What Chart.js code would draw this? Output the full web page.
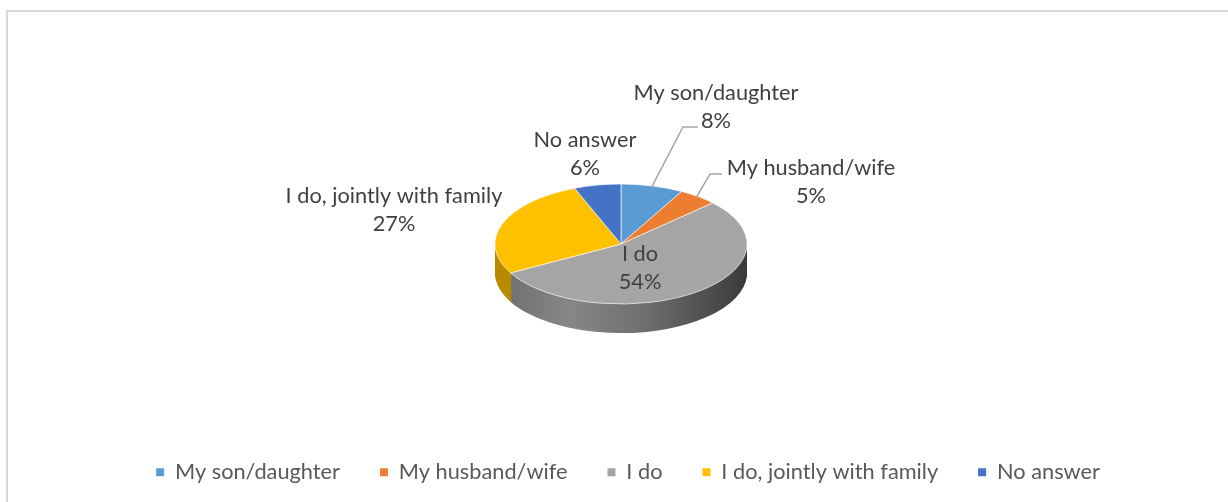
<!DOCTYPE html>
<html>
<head>
<meta charset="utf-8">
<script src="https://cdn.jsdelivr.net/npm/chart.js"></script>
<style>
  body { margin: 0; overflow: hidden; background: #fff; }
  #frame { position: absolute; left: 6px; top: 10px; width: 1240px; height: 520px; border: 2px solid #d9d9d9; }
  #myChart { position: absolute; left: 0; top: 0; }
</style>
</head>
<body>
<div id="frame"></div>
<canvas id="myChart" width="1228" height="502"></canvas>
<script>
const categories = ['My son/daughter', 'My husband/wife', 'I do', 'I do, jointly with family', 'No answer'];
const shares = [8, 5, 54, 27, 6];
const sliceColors = ['#5B9BD5', '#ED7D31', '#A5A5A5', '#FFC000', '#4472C4'];
const sideColors = ['#3f6f9c', '#a85620', 'gray', '#b88a00', '#2f5597'];

// where the flattened pie sits on the page
const pie = { cx: 621, cy: 244, rx: 126, ry: 60, depth: 29 };
const fontSize = 21.75;
const fontFamily = 'Lato, "Open Sans", sans-serif';
// data label text anchors (first line), second line sits 28px lower
const labelPos = [[716, 93], [811, 168], [640, 254], [394, 196], [585, 140]];
// leader line elbows for the two small slices
const leaders = [[[683, 127], [698, 127]], [[710, 174], [722, 174]], null, null, null];

function applyPie(ctx, arc, dy) {
  const R = arc.outerRadius;
  ctx.translate(pie.cx, pie.cy + dy);
  ctx.scale(pie.rx / R, pie.ry / R);
  ctx.translate(-arc.x, -arc.y);
}

function rimPoint(ang, f) {
  return [pie.cx + Math.cos(ang) * pie.rx * f, pie.cy + Math.sin(ang) * pie.ry * f];
}

const pie3d = {
  id: 'pie3d',
  beforeDatasetsDraw(chart) {
    const ctx = chart.ctx;
    const arcs = chart.getDatasetMeta(0).data;
    const a0 = arcs[0];
    // side walls: stack the slices downwards in darker colours
    for (let d = pie.depth; d >= 1; d--) {
      ctx.save();
      applyPie(ctx, a0, d);
      const R = a0.outerRadius;
      const g = ctx.createLinearGradient(a0.x - R, 0, a0.x + R, 0);
      g.addColorStop(0, '#6c6c6c');
      g.addColorStop(0.3, '#878787');
      g.addColorStop(0.6, '#6e6e6e');
      g.addColorStop(1, '#3a3a3a');
      arcs.forEach((arc, i) => {
        ctx.beginPath();
        ctx.moveTo(arc.x, arc.y);
        ctx.arc(arc.x, arc.y, arc.outerRadius, arc.startAngle, arc.endAngle);
        ctx.closePath();
        ctx.fillStyle = i === 2 ? g : sideColors[i];
        ctx.fill();
      });
      ctx.restore();
    }
    ctx.save();
    applyPie(ctx, a0, 0);
  },
  afterDatasetsDraw(chart) {
    const ctx = chart.ctx;
    ctx.restore();
    const arcs = chart.getDatasetMeta(0).data;
    ctx.save();
    ctx.font = fontSize + 'px ' + fontFamily;
    ctx.fillStyle = '#404040';
    ctx.textAlign = 'center';
    ctx.textBaseline = 'middle';
    arcs.forEach((arc, i) => {
      const [x, y] = labelPos[i];
      ctx.fillText(categories[i], x, y);
      ctx.fillText(shares[i] + '%', x, y + 28);
      if (leaders[i]) {
        const mid = (arc.startAngle + arc.endAngle) / 2;
        const p = rimPoint(mid, 0.97);
        ctx.beginPath();
        ctx.moveTo(p[0], p[1]);
        leaders[i].forEach(q => ctx.lineTo(q[0], q[1]));
        ctx.strokeStyle = '#a6a6a6';
        ctx.lineWidth = 1.5;
        ctx.stroke();
      }
    });
    ctx.restore();
  }
};

const myChart = new Chart(document.getElementById('myChart'), {
  type: 'pie',
  data: {
    labels: categories,
    datasets: [{
      data: shares,
      backgroundColor: sliceColors,
      borderColor: '#ffffff',
      borderWidth: 1.5,
      clip: false
    }]
  },
  options: {
    responsive: false,
    animation: false,
    events: [],
    layout: { padding: { left: 28, bottom: 9 } },
    plugins: {
      tooltip: { enabled: false },
      legend: {
        position: 'bottom',
        labels: {
          boxWidth: 8,
          boxHeight: 8,
          padding: 40,
          color: '#595959',
          font: { family: fontFamily, size: fontSize },
          generateLabels(chart) {
            return Chart.overrides.pie.plugins.legend.labels.generateLabels(chart)
              .map(l => Object.assign(l, { lineWidth: 0, strokeStyle: l.fillStyle }));
          }
        }
      }
    }
  },
  plugins: [pie3d]
});
</script>
</body>
</html>
